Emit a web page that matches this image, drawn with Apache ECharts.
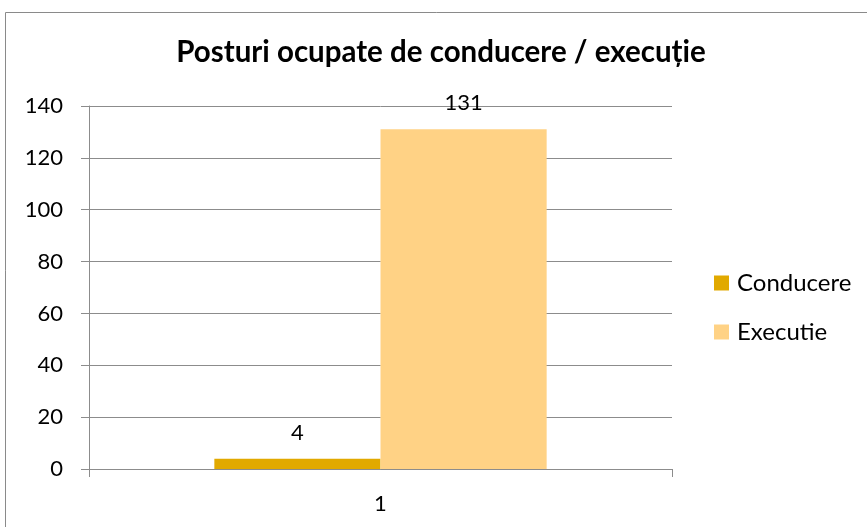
<!DOCTYPE html>
<html>
<head>
<meta charset="utf-8">
<script src="https://cdn.jsdelivr.net/npm/echarts@6/dist/echarts.min.js"></script>
<style>
  html, body { margin: 0; padding: 0; background: #fff; }
  #chart { width: 867px; height: 527px; }
</style>
</head>
<body>
<div id="chart"></div>
<script>
const categories = ["1"];
const seriesNames = ["Conducere", "Executie"];
const conducereValues = [4];
const executieValues = [131];
const yTicks = [0, 20, 40, 60, 80, 100, 120, 140];

const font = "Lato, 'Noto Sans', sans-serif";
const myChart = echarts.init(document.getElementById("chart"));

// eticheta de deasupra barei
const barLabel = {
  show: true,
  position: "top",
  distance: 15,
  fontFamily: font,
  fontSize: 22,
  color: "#000",
};

const option = {
  animation: false,
  backgroundColor: "#fff",
  title: {
    text: "Posturi ocupate de conducere / execuție",
    left: 441,
    textAlign: "center",
    top: 37,
    padding: 0,
    textStyle: {
      fontFamily: font,
      fontWeight: "bold",
      fontSize: 29.5,
      color: "#000",
    },
  },
  // chenarul exterior
  graphic: [
    {
      type: "rect",
      shape: { x: 5.5, y: 12.5, width: 900, height: 600 },
      style: { fill: "none", stroke: "#8a8a8a", lineWidth: 1 },
      silent: true,
    },
  ],
  legend: {
    orient: "vertical",
    left: 714,
    top: 271,
    padding: 0,
    itemWidth: 15,
    itemHeight: 15,
    itemGap: 25,
    icon: "rect",
    data: seriesNames,
    textStyle: {
      fontFamily: font,
      fontSize: 24,
      color: "#000",
      padding: [0, 0, 0, 3],
    },
  },
  grid: {
    left: 89,
    right: 195,
    top: 106,
    bottom: 58,
  },
  xAxis: {
    type: "category",
    data: categories,
    axisLine: { show: true, lineStyle: { color: "#8c8c8c", width: 1 } },
    axisTick: { show: true, length: 8, lineStyle: { color: "#8c8c8c" } },
    axisLabel: {
      margin: 24,
      fontFamily: font,
      fontSize: 22,
      color: "#000",
    },
  },
  yAxis: {
    type: "value",
    min: yTicks[0],
    max: yTicks[yTicks.length - 1],
    interval: yTicks[1] - yTicks[0],
    axisLine: { show: true, lineStyle: { color: "#8c8c8c", width: 1 } },
    axisTick: { show: true, length: 8, lineStyle: { color: "#8c8c8c" } },
    splitLine: { show: true, lineStyle: { color: "#8c8c8c", width: 1 } },
    axisLabel: {
      margin: 26,
      fontFamily: font,
      fontSize: 22,
      color: "#000",
    },
  },
  series: [
    {
      name: seriesNames[0],
      type: "bar",
      data: conducereValues,
      barGap: "0%",
      barCategoryGap: "43%",
      itemStyle: { color: "#E1A900" },
      label: barLabel,
    },
    {
      name: seriesNames[1],
      type: "bar",
      data: executieValues,
      barGap: "0%",
      barCategoryGap: "43%",
      itemStyle: { color: "#FFD285" },
      label: barLabel,
    },
  ],
};
myChart.setOption(option);
</script>
</body>
</html>
